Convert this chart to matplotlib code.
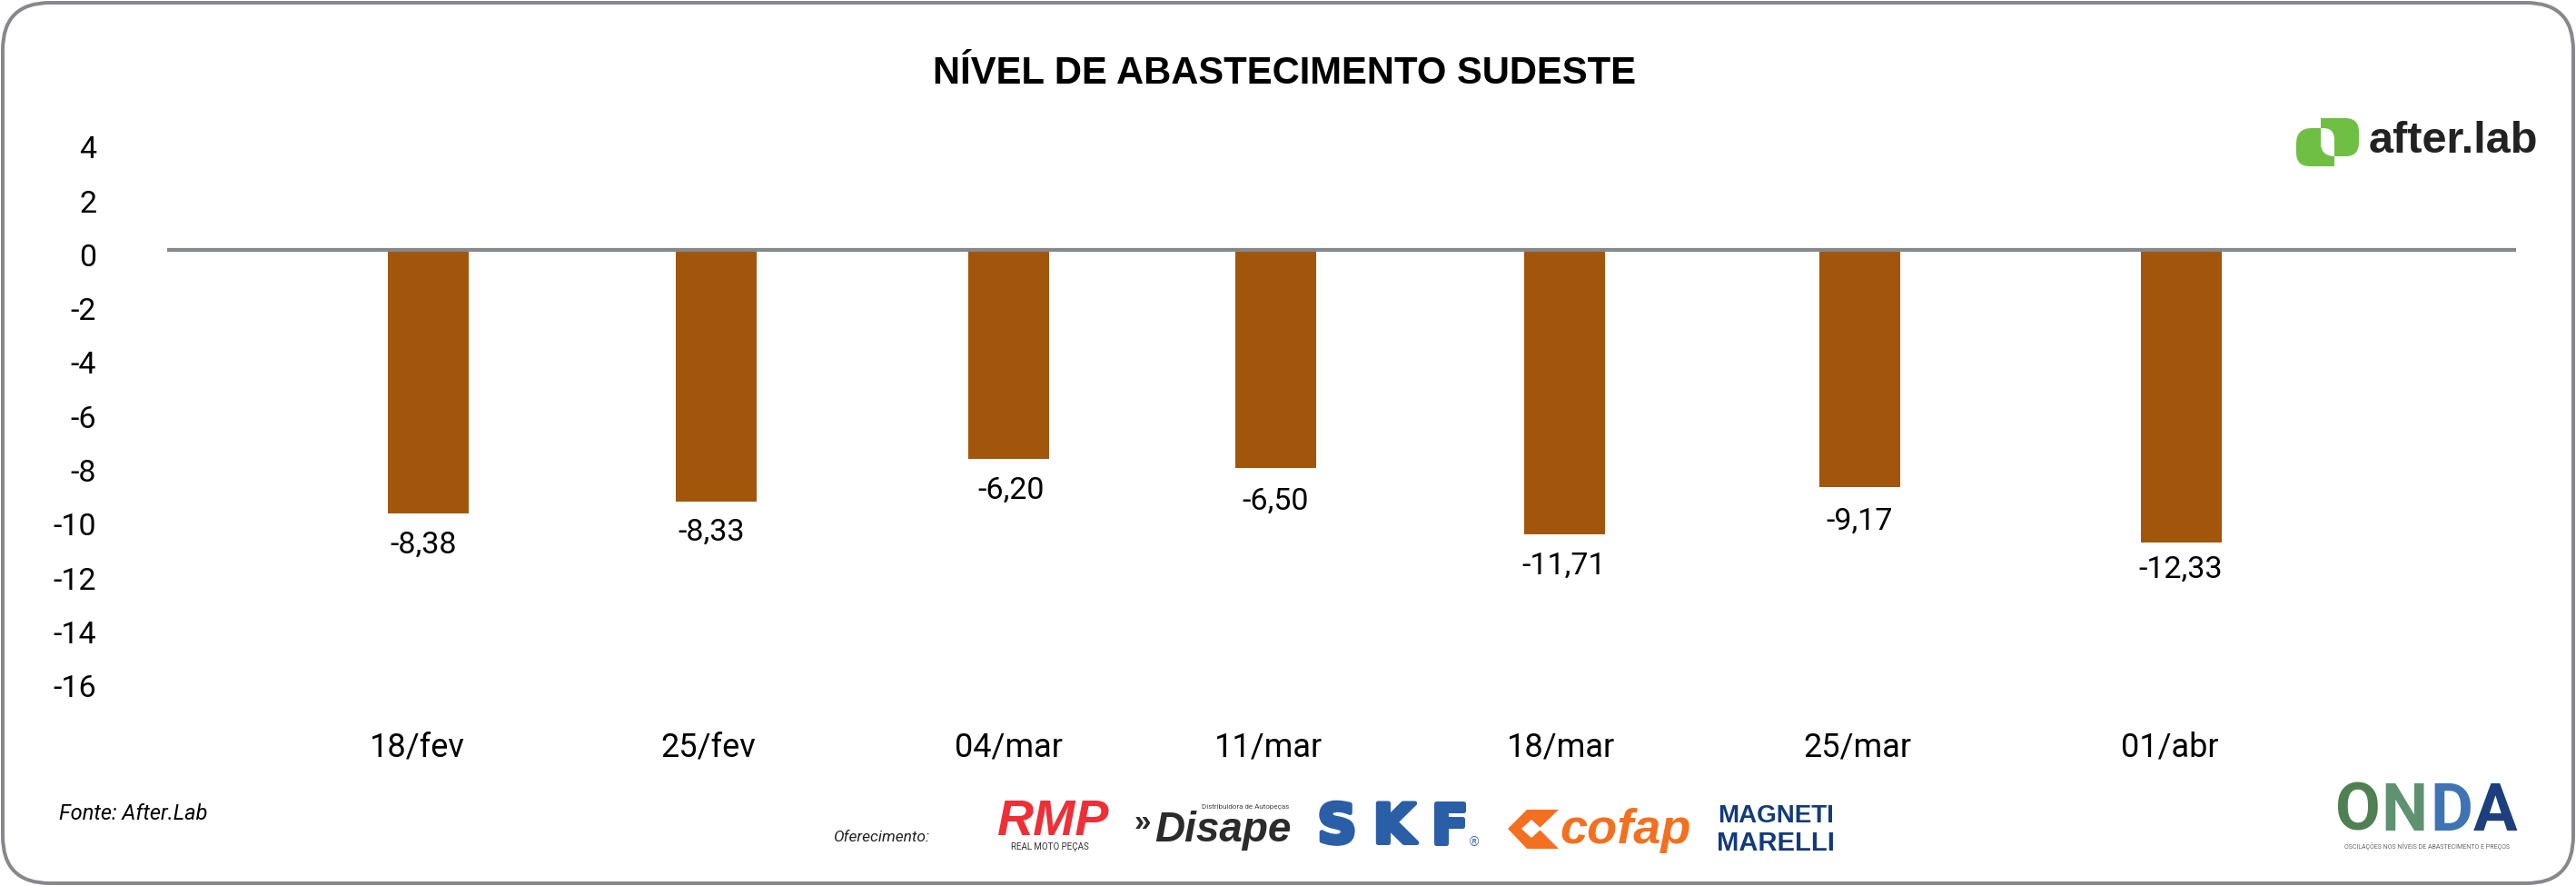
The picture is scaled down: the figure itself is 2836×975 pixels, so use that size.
import matplotlib
matplotlib.use("Agg")
import matplotlib.pyplot as plt
import matplotlib.patheffects as pe
from matplotlib.patches import FancyBboxPatch, PathPatch, Polygon
from matplotlib.path import Path
from matplotlib.transforms import ScaledTranslation

# values
weeks = ["18/fev", "25/fev", "04/mar", "11/mar", "18/mar", "25/mar", "01/abr"]
bar_heights = [-9.75, -9.34, -7.75, -8.07, -10.54, -8.78, -10.86]
bar_labels = ["-8,38", "-8,33", "-6,20", "-6,50", "-11,71", "-9,17", "-12,33"]
y_ticks = [4, 2, 0, -2, -4, -6, -8, -10, -12, -14, -16]

# layout, the weeks are not evenly spaced in the picture
bar_pos = [0, 0.985, 1.988, 2.902, 3.891, 4.9, 6.0]
tick_pos = [-0.037, 0.959, 1.986, 2.875, 3.876, 4.892, 5.961]
label_dx = [-4.6, -5.2, 2.8, -0.9, -1.7, -0.5, -0.5]
label_dy = [34.7, 33.4, 34, 37, 35, 37.6, 29.4]

W, H = 2836, 975
FONT = "Roboto"
SANS = "Liberation Sans"
GREY = "#87888c"

fig = plt.figure(figsize=(W / 100, H / 100), dpi=100, facecolor="white")
px = 72 / 100  # points per pixel

ax = fig.add_axes([184 / W, 1 - 749.9 / H, (2770 - 184) / W, (749.9 - 156.7) / H])
ax.set_xlim(-0.8928, 7.146)
ax.set_ylim(-16, 4)
ax.bar(bar_pos, bar_heights, width=0.2767, color="#a2560c", zorder=2)
ax.axhline(0, color=GREY, lw=4.2 * px, zorder=3)
for s in ax.spines.values():
    s.set_visible(False)
ax.set_xticks(tick_pos)
ax.set_xticklabels(weeks, family=FONT, fontsize=26)
ax.set_yticks(y_ticks)
ax.set_yticklabels([str(v) for v in y_ticks], family=FONT, fontsize=24.5)
ax.tick_params(axis="both", length=0)
ax.tick_params(axis="x", pad=39.5)
ax.tick_params(axis="y", pad=56)
shift = ScaledTranslation(0, -5 * px / 72, fig.dpi_scale_trans)
for t in ax.get_yticklabels():
    t.set_transform(t.get_transform() + shift)

for x, h, lab, dx, dy in zip(bar_pos, bar_heights, bar_labels, label_dx, label_dy):
    ax.annotate(lab, (x, h), xytext=(dx * px, -dy * px), textcoords="offset points",
                ha="center", va="center", family=FONT, fontsize=24.5, color="black")

# page furniture in pixel coordinates
deco = fig.add_axes([0, 0, 1, 1], facecolor="none")
deco.set_xlim(0, W)
deco.set_ylim(H, 0)
deco.axis("off")

deco.add_patch(FancyBboxPatch((3, 3), 2830, 969, boxstyle="round,pad=0,rounding_size=52",
                              fc="none", ec=GREY, lw=4 * px))
deco.text(1414, 81, "NÍVEL DE ABASTECIMENTO SUDESTE", ha="center", va="center",
          family=SANS, weight="bold", fontsize=30.1, color="black")
deco.text(65, 895, "Fonte: After.Lab", ha="left", va="center", family=FONT,
          style="italic", fontsize=17, color="black")
deco.text(917, 921, "Oferecimento:", ha="left", va="center", family=FONT,
          style="italic", fontsize=12.5, color="#222222")

# after.lab logo
LIME = "#6fbf44"
M, L, C = Path.MOVETO, Path.LINETO, Path.CURVE3
left_leaf = Path([(2570, 141), (2545, 141), (2528, 141), (2528, 158), (2528, 168),
                  (2528, 183), (2543, 183), (2570, 183), (2570, 141)],
                 [M, L, C, C, L, C, C, L, L])
right_leaf = Path([(2555, 130), (2582, 130), (2597, 130), (2597, 145), (2597, 157),
                   (2597, 172), (2582, 172), (2555, 172), (2555, 130)],
                  [M, L, C, C, L, C, C, L, L])
hole = Path([(2555, 141), (2558, 141), (2570, 141), (2570, 154), (2570, 172),
             (2557, 172), (2555, 160), (2555, 141)],
            [M, L, C, C, L, C, C, L])
deco.add_patch(PathPatch(left_leaf, fc=LIME, ec="none"))
deco.add_patch(PathPatch(right_leaf, fc=LIME, ec="none"))
deco.add_patch(PathPatch(hole, fc="white", ec="none"))
deco.text(2608, 156, "after.lab", ha="left", va="center", family=SANS, weight="bold",
          fontsize=35, color="#222222")

# sponsors
deco.text(1159, 905, "RMP", ha="center", va="center", family=SANS, weight="bold",
          style="italic", fontsize=40, color="#ee2f37")
deco.text(1156, 932, "REAL MOTO PEÇAS", ha="center", va="center", family=FONT,
          fontsize=7, color="#333333")
deco.text(1249, 906, "»", ha="left", va="center", family=SANS, weight="bold",
          fontsize=24, color="#2b2b2b")
deco.text(1271, 914, "Disape", ha="left", va="center", family=SANS, weight="bold",
          style="italic", fontsize=33, color="#2b2b2b")
deco.text(1323, 888, "Distribuidora de Autopeças", ha="left", va="center", family=FONT,
          fontsize=5.8, color="#444444")
for ch, xc in zip("SKF", [1472, 1535, 1596]):
    deco.text(xc, 911, ch, ha="center", va="center", family="DejaVu Sans", weight="bold",
              fontsize=43, color="#2a5fa8",
              path_effects=[pe.withStroke(linewidth=5 * px, foreground="#2a5fa8")])
deco.text(1623, 927, "®", ha="center", va="center", family=SANS, fontsize=10, color="#2a5fa8")
ORANGE = "#f37021"
deco.add_patch(Polygon([(1660, 912), (1681, 891), (1716, 891), (1694, 912), (1716, 934), (1681, 934)],
                       closed=True, fc=ORANGE, ec="none"))
deco.add_patch(Polygon([(1675, 912), (1686, 902), (1697, 912), (1686, 922)], closed=True, fc="white", ec="none"))
deco.text(1790, 914, "cofap", ha="center", va="center", family=SANS, weight="bold",
          style="italic", fontsize=39, color=ORANGE)
deco.text(1955, 898, "MAGNETI", ha="center", va="center", family=SANS, weight="bold",
          fontsize=20, color="#123a7c")
deco.text(1955, 928, "MARELLI", ha="center", va="center", family=SANS, weight="bold",
          fontsize=21, color="#123a7c")

# ONDA logo
for ch, xc, col in zip("ONDA", [2596, 2647, 2699, 2747], ["#4f8052", "#5f9270", "#3f74b4", "#1d3f7e"]):
    deco.text(xc, 894, ch, ha="center", va="center", family=FONT, weight="bold",
              fontsize=52, color=col)
deco.text(2672, 931, "OSCILAÇÕES NOS NÍVEIS DE ABASTECIMENTO E PREÇOS", ha="center", va="center",
          family=FONT, fontsize=5, color="#666666")

fig.savefig("out.png", dpi=100)
